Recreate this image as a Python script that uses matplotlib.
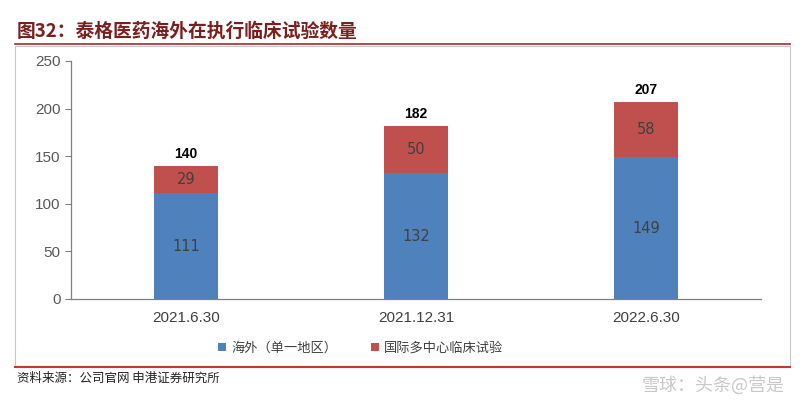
import matplotlib
matplotlib.use('Agg')
import matplotlib.pyplot as plt
from matplotlib.patches import Rectangle
from matplotlib.lines import Line2D

plt.rcParams['font.family'] = ['Liberation Sans', 'Noto Sans CJK SC', 'DejaVu Sans']

categories = ['2021.6.30', '2021.12.31', '2022.6.30']
overseas = [111, 132, 149]
multicenter = [29, 50, 58]
totals = [140, 182, 207]
series_names = ['海外（单一地区）', '国际多中心临床试验']

blue = '#4F81BD'
red = '#C0504D'
cjk = ['Noto Sans CJK SC', 'DejaVu Sans']

fig = plt.figure(figsize=(8, 4.13), dpi=100)

# outer frame and red rules
fig.add_artist(Rectangle((15 / 800, 1 - 367 / 413), 775 / 800, 321 / 413,
                         transform=fig.transFigure, fill=False, edgecolor='#c8c8c8', lw=0.8))
fig.add_artist(Line2D([15 / 800, 790 / 800], [1 - 44 / 413] * 2, transform=fig.transFigure,
                      color='#a52a2a', lw=1.2))
fig.add_artist(Line2D([15 / 800, 790 / 800], [1 - 367 / 413] * 2, transform=fig.transFigure,
                      color='#c0392b', lw=1.5))

fig.text(17 / 800, 1 - 31 / 413, '图32：泰格医药海外在执行临床试验数量', fontsize=13.5,
         fontweight='heavy', color='#7b1e1e', va='center', ha='left', family=cjk)
fig.text(17 / 800, 1 - 378 / 413, '资料来源：公司官网 申港证券研究所', fontsize=9,
         style='italic', color='#222222', va='center', ha='left', family=cjk)
fig.text(785 / 800, 1 - 385 / 413, '雪球：头条@营是', fontsize=13, color='#bbbbbb',
         va='center', ha='right', alpha=0.8, family=cjk)

ax = fig.add_axes([71 / 800, 1 - 299 / 413, 690 / 800, 238 / 413])
x = range(len(categories))
w = 0.28
ax.bar(x, overseas, width=w, color=blue, label=series_names[0])
ax.bar(x, multicenter, width=w, bottom=overseas, color=red, label=series_names[1])

for i in x:
    ax.text(i, overseas[i] / 2, str(overseas[i]), ha='center', va='center',
            fontsize=10.5, color='#404040', family='DejaVu Sans')
    ax.text(i, overseas[i] + multicenter[i] / 2, str(multicenter[i]), ha='center',
            va='center', fontsize=10.5, color='#404040', family='DejaVu Sans')
    ax.text(i, totals[i] + 5, str(totals[i]), ha='center', va='bottom',
            fontsize=10, fontweight='bold', color='black')

ax.set_xlim(-0.5, 2.5)
ax.set_ylim(0, 250)
ax.set_yticks(range(0, 251, 50))
ax.set_xticks(list(x))
ax.set_xticklabels(categories, fontsize=11, color='#404040')
ax.tick_params(axis='y', labelsize=11, labelcolor='#595959', color='#808080',
               length=4, width=0.8)
ax.tick_params(axis='x', length=0, pad=9)
for s in ['top', 'right']:
    ax.spines[s].set_visible(False)
for s in ['left', 'bottom']:
    ax.spines[s].set_color('#808080')
    ax.spines[s].set_linewidth(0.9)

ax.legend(loc='upper center', bbox_to_anchor=(0.42, -0.13), ncol=2, frameon=False,
          prop={'family': cjk, 'size': 9.5}, handlelength=0.6, handleheight=0.6,
          columnspacing=2.5, labelcolor='#404040', handletextpad=0.4)

fig.savefig('out.png', dpi=100)
